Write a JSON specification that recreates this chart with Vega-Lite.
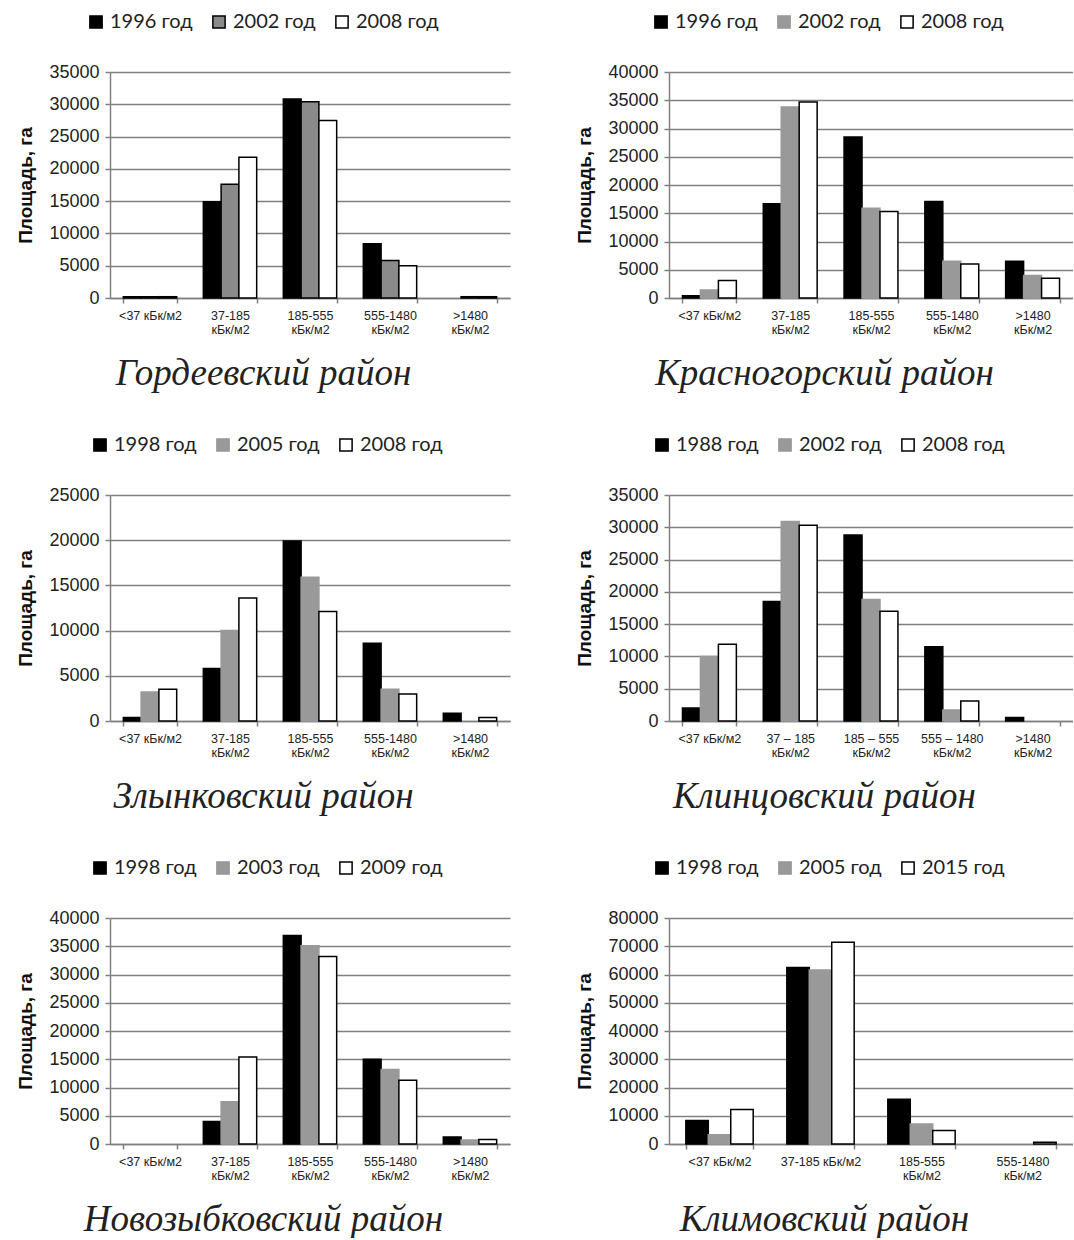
{
  "$schema": "https://vega.github.io/schema/vega-lite/v6.json",
  "background": "white",
  "padding": {"left": 16, "top": 12, "right": 0, "bottom": 0},
  "columns": 2,
  "spacing": {"row": 43, "column": 65},
  "resolve": {
    "scale": {"x": "independent", "y": "independent", "xOffset": "independent", "fill": "independent", "stroke": "independent"},
    "legend": {"fill": "independent", "stroke": "independent"}
  },
  "concat": [
    {
      "width": 400, "height": 226,
      "title": {"text": "Гордеевский район"},
      "data": {"values": [
        {"zone": "<37 кБк/м2", "year": "1996 год", "area": 200},
        {"zone": "<37 кБк/м2", "year": "2002 год", "area": 200},
        {"zone": "<37 кБк/м2", "year": "2008 год", "area": 200},
        {"zone": "37-185|кБк/м2", "year": "1996 год", "area": 14900},
        {"zone": "37-185|кБк/м2", "year": "2002 год", "area": 17600},
        {"zone": "37-185|кБк/м2", "year": "2008 год", "area": 21800},
        {"zone": "185-555|кБк/м2", "year": "1996 год", "area": 30800},
        {"zone": "185-555|кБк/м2", "year": "2002 год", "area": 30400},
        {"zone": "185-555|кБк/м2", "year": "2008 год", "area": 27500},
        {"zone": "555-1480|кБк/м2", "year": "1996 год", "area": 8400},
        {"zone": "555-1480|кБк/м2", "year": "2002 год", "area": 5800},
        {"zone": "555-1480|кБк/м2", "year": "2008 год", "area": 5000},
        {"zone": ">1480|кБк/м2", "year": "2002 год", "area": 200},
        {"zone": ">1480|кБк/м2", "year": "2008 год", "area": 200}
      ]},
      "mark": {"type": "bar", "strokeWidth": 1.5},
      "encoding": {
        "x": {"field": "zone", "type": "nominal", "title": null,
              "scale": {"domain": ["<37 кБк/м2", "37-185|кБк/м2", "185-555|кБк/м2", "555-1480|кБк/м2", ">1480|кБк/м2"], "paddingInner": 0.333, "paddingOuter": 0.1667},
              "axis": {"labelExpr": "split(datum.label, '|')"}},
        "xOffset": {"field": "year", "type": "nominal", "scale": {"domain": ["1996 год", "2002 год", "2008 год"]}},
        "y": {"field": "area", "type": "quantitative", "title": "Площадь, га",
              "scale": {"domain": [0, 35000], "nice": false},
              "axis": {"values": [0, 5000, 10000, 15000, 20000, 25000, 30000, 35000]}},
        "fill": {"field": "year", "type": "nominal", "title": null,
                 "scale": {"domain": ["1996 год", "2002 год", "2008 год"], "range": ["#000000", "#8a8a8a", "#ffffff"]},
                 "legend": {"orient": "none", "legendX": -24, "legendY": -60}},
        "stroke": {"field": "year", "type": "nominal", "title": null,
                   "scale": {"domain": ["1996 год", "2002 год", "2008 год"], "range": ["#000000", "#000000", "#000000"]},
                   "legend": {"orient": "none", "legendX": -24, "legendY": -60}}
      }
    },
    {
      "width": 404, "height": 226,
      "title": {"text": "Красногорский район"},
      "data": {"values": [
        {"zone": "<37 кБк/м2", "year": "1996 год", "area": 400},
        {"zone": "<37 кБк/м2", "year": "2002 год", "area": 1400},
        {"zone": "<37 кБк/м2", "year": "2008 год", "area": 3100},
        {"zone": "37-185|кБк/м2", "year": "1996 год", "area": 16700},
        {"zone": "37-185|кБк/м2", "year": "2002 год", "area": 33800},
        {"zone": "37-185|кБк/м2", "year": "2008 год", "area": 34700},
        {"zone": "185-555|кБк/м2", "year": "1996 год", "area": 28500},
        {"zone": "185-555|кБк/м2", "year": "2002 год", "area": 15900},
        {"zone": "185-555|кБк/м2", "year": "2008 год", "area": 15300},
        {"zone": "555-1480|кБк/м2", "year": "1996 год", "area": 17100},
        {"zone": "555-1480|кБк/м2", "year": "2002 год", "area": 6500},
        {"zone": "555-1480|кБк/м2", "year": "2008 год", "area": 6000},
        {"zone": ">1480|кБк/м2", "year": "1996 год", "area": 6500},
        {"zone": ">1480|кБк/м2", "year": "2002 год", "area": 4000},
        {"zone": ">1480|кБк/м2", "year": "2008 год", "area": 3500}
      ]},
      "mark": {"type": "bar", "strokeWidth": 1.5},
      "encoding": {
        "x": {"field": "zone", "type": "nominal", "title": null,
              "scale": {"domain": ["<37 кБк/м2", "37-185|кБк/м2", "185-555|кБк/м2", "555-1480|кБк/м2", ">1480|кБк/м2"], "paddingInner": 0.333, "paddingOuter": 0.1667},
              "axis": {"labelExpr": "split(datum.label, '|')"}},
        "xOffset": {"field": "year", "type": "nominal", "scale": {"domain": ["1996 год", "2002 год", "2008 год"]}},
        "y": {"field": "area", "type": "quantitative", "title": "Площадь, га",
              "scale": {"domain": [0, 40000], "nice": false},
              "axis": {"values": [0, 5000, 10000, 15000, 20000, 25000, 30000, 35000, 40000]}},
        "fill": {"field": "year", "type": "nominal", "title": null,
                 "scale": {"domain": ["1996 год", "2002 год", "2008 год"], "range": ["#000000", "#999999", "#ffffff"]},
                 "legend": {"orient": "none", "legendX": -18, "legendY": -60}},
        "stroke": {"field": "year", "type": "nominal", "title": null,
                   "scale": {"domain": ["1996 год", "2002 год", "2008 год"], "range": ["#000000", "#999999", "#000000"]},
                   "legend": {"orient": "none", "legendX": -18, "legendY": -60}}
      }
    },
    {
      "width": 400, "height": 226,
      "title": {"text": "Злынковский район"},
      "data": {"values": [
        {"zone": "<37 кБк/м2", "year": "1998 год", "area": 400},
        {"zone": "<37 кБк/м2", "year": "2005 год", "area": 3200},
        {"zone": "<37 кБк/м2", "year": "2008 год", "area": 3500},
        {"zone": "37-185|кБк/м2", "year": "1998 год", "area": 5800},
        {"zone": "37-185|кБк/м2", "year": "2005 год", "area": 10000},
        {"zone": "37-185|кБк/м2", "year": "2008 год", "area": 13600},
        {"zone": "185-555|кБк/м2", "year": "1998 год", "area": 19900},
        {"zone": "185-555|кБк/м2", "year": "2005 год", "area": 15900},
        {"zone": "185-555|кБк/м2", "year": "2008 год", "area": 12100},
        {"zone": "555-1480|кБк/м2", "year": "1998 год", "area": 8600},
        {"zone": "555-1480|кБк/м2", "year": "2005 год", "area": 3500},
        {"zone": "555-1480|кБк/м2", "year": "2008 год", "area": 3000},
        {"zone": ">1480|кБк/м2", "year": "1998 год", "area": 850},
        {"zone": ">1480|кБк/м2", "year": "2008 год", "area": 400}
      ]},
      "mark": {"type": "bar", "strokeWidth": 1.5},
      "encoding": {
        "x": {"field": "zone", "type": "nominal", "title": null,
              "scale": {"domain": ["<37 кБк/м2", "37-185|кБк/м2", "185-555|кБк/м2", "555-1480|кБк/м2", ">1480|кБк/м2"], "paddingInner": 0.333, "paddingOuter": 0.1667},
              "axis": {"labelExpr": "split(datum.label, '|')"}},
        "xOffset": {"field": "year", "type": "nominal", "scale": {"domain": ["1998 год", "2005 год", "2008 год"]}},
        "y": {"field": "area", "type": "quantitative", "title": "Площадь, га",
              "scale": {"domain": [0, 25000], "nice": false},
              "axis": {"values": [0, 5000, 10000, 15000, 20000, 25000]}},
        "fill": {"field": "year", "type": "nominal", "title": null,
                 "scale": {"domain": ["1998 год", "2005 год", "2008 год"], "range": ["#000000", "#999999", "#ffffff"]},
                 "legend": {"orient": "none", "legendX": -20, "legendY": -60}},
        "stroke": {"field": "year", "type": "nominal", "title": null,
                   "scale": {"domain": ["1998 год", "2005 год", "2008 год"], "range": ["#000000", "#999999", "#000000"]},
                   "legend": {"orient": "none", "legendX": -20, "legendY": -60}}
      }
    },
    {
      "width": 404, "height": 226,
      "title": {"text": "Клинцовский район"},
      "data": {"values": [
        {"zone": "<37 кБк/м2", "year": "1988 год", "area": 2000},
        {"zone": "<37 кБк/м2", "year": "2002 год", "area": 10000},
        {"zone": "<37 кБк/м2", "year": "2008 год", "area": 11900},
        {"zone": "37 – 185|кБк/м2", "year": "1988 год", "area": 18500},
        {"zone": "37 – 185|кБк/м2", "year": "2002 год", "area": 30900},
        {"zone": "37 – 185|кБк/м2", "year": "2008 год", "area": 30300},
        {"zone": "185 – 555|кБк/м2", "year": "1988 год", "area": 28800},
        {"zone": "185 – 555|кБк/м2", "year": "2002 год", "area": 18800},
        {"zone": "185 – 555|кБк/м2", "year": "2008 год", "area": 17000},
        {"zone": "555 – 1480|кБк/м2", "year": "1988 год", "area": 11500},
        {"zone": "555 – 1480|кБк/м2", "year": "2002 год", "area": 1700},
        {"zone": "555 – 1480|кБк/м2", "year": "2008 год", "area": 3100},
        {"zone": ">1480|кБк/м2", "year": "1988 год", "area": 550}
      ]},
      "mark": {"type": "bar", "strokeWidth": 1.5},
      "encoding": {
        "x": {"field": "zone", "type": "nominal", "title": null,
              "scale": {"domain": ["<37 кБк/м2", "37 – 185|кБк/м2", "185 – 555|кБк/м2", "555 – 1480|кБк/м2", ">1480|кБк/м2"], "paddingInner": 0.333, "paddingOuter": 0.1667},
              "axis": {"labelExpr": "split(datum.label, '|')"}},
        "xOffset": {"field": "year", "type": "nominal", "scale": {"domain": ["1988 год", "2002 год", "2008 год"]}},
        "y": {"field": "area", "type": "quantitative", "title": "Площадь, га",
              "scale": {"domain": [0, 35000], "nice": false},
              "axis": {"values": [0, 5000, 10000, 15000, 20000, 25000, 30000, 35000]}},
        "fill": {"field": "year", "type": "nominal", "title": null,
                 "scale": {"domain": ["1988 год", "2002 год", "2008 год"], "range": ["#000000", "#999999", "#ffffff"]},
                 "legend": {"orient": "none", "legendX": -17, "legendY": -60}},
        "stroke": {"field": "year", "type": "nominal", "title": null,
                   "scale": {"domain": ["1988 год", "2002 год", "2008 год"], "range": ["#000000", "#999999", "#000000"]},
                   "legend": {"orient": "none", "legendX": -17, "legendY": -60}}
      }
    },
    {
      "width": 400, "height": 226,
      "title": {"text": "Новозыбковский район"},
      "data": {"values": [
        {"zone": "37-185|кБк/м2", "year": "1998 год", "area": 4000},
        {"zone": "37-185|кБк/м2", "year": "2003 год", "area": 7500},
        {"zone": "37-185|кБк/м2", "year": "2009 год", "area": 15400},
        {"zone": "185-555|кБк/м2", "year": "1998 год", "area": 36900},
        {"zone": "185-555|кБк/м2", "year": "2003 год", "area": 35100},
        {"zone": "185-555|кБк/м2", "year": "2009 год", "area": 33200},
        {"zone": "555-1480|кБк/м2", "year": "1998 год", "area": 15000},
        {"zone": "555-1480|кБк/м2", "year": "2003 год", "area": 13200},
        {"zone": "555-1480|кБк/м2", "year": "2009 год", "area": 11300},
        {"zone": ">1480|кБк/м2", "year": "1998 год", "area": 1250},
        {"zone": ">1480|кБк/м2", "year": "2003 год", "area": 700},
        {"zone": ">1480|кБк/м2", "year": "2009 год", "area": 800}
      ]},
      "mark": {"type": "bar", "strokeWidth": 1.5},
      "encoding": {
        "x": {"field": "zone", "type": "nominal", "title": null,
              "scale": {"domain": ["<37 кБк/м2", "37-185|кБк/м2", "185-555|кБк/м2", "555-1480|кБк/м2", ">1480|кБк/м2"], "paddingInner": 0.333, "paddingOuter": 0.1667},
              "axis": {"labelExpr": "split(datum.label, '|')"}},
        "xOffset": {"field": "year", "type": "nominal", "scale": {"domain": ["1998 год", "2003 год", "2009 год"]}},
        "y": {"field": "area", "type": "quantitative", "title": "Площадь, га",
              "scale": {"domain": [0, 40000], "nice": false},
              "axis": {"values": [0, 5000, 10000, 15000, 20000, 25000, 30000, 35000, 40000]}},
        "fill": {"field": "year", "type": "nominal", "title": null,
                 "scale": {"domain": ["1998 год", "2003 год", "2009 год"], "range": ["#000000", "#999999", "#ffffff"]},
                 "legend": {"orient": "none", "legendX": -20, "legendY": -60}},
        "stroke": {"field": "year", "type": "nominal", "title": null,
                   "scale": {"domain": ["1998 год", "2003 год", "2009 год"], "range": ["#000000", "#999999", "#000000"]},
                   "legend": {"orient": "none", "legendX": -20, "legendY": -60}}
      }
    },
    {
      "width": 404, "height": 226,
      "title": {"text": "Климовский район"},
      "data": {"values": [
        {"zone": "<37 кБк/м2", "year": "1998 год", "area": 8300},
        {"zone": "<37 кБк/м2", "year": "2005 год", "area": 3300},
        {"zone": "<37 кБк/м2", "year": "2015 год", "area": 12200},
        {"zone": "37-185 кБк/м2", "year": "1998 год", "area": 62500},
        {"zone": "37-185 кБк/м2", "year": "2005 год", "area": 61600},
        {"zone": "37-185 кБк/м2", "year": "2015 год", "area": 71400},
        {"zone": "185-555|кБк/м2", "year": "1998 год", "area": 15800},
        {"zone": "185-555|кБк/м2", "year": "2005 год", "area": 7100},
        {"zone": "185-555|кБк/м2", "year": "2015 год", "area": 4800},
        {"zone": "555-1480|кБк/м2", "year": "2015 год", "area": 600}
      ]},
      "mark": {"type": "bar", "strokeWidth": 1.5},
      "encoding": {
        "x": {"field": "zone", "type": "nominal", "title": null,
              "scale": {"domain": ["<37 кБк/м2", "37-185 кБк/м2", "185-555|кБк/м2", "555-1480|кБк/м2"], "paddingInner": 0.333, "paddingOuter": 0.1667},
              "axis": {"labelExpr": "split(datum.label, '|')"}},
        "xOffset": {"field": "year", "type": "nominal", "scale": {"domain": ["1998 год", "2005 год", "2015 год"]}},
        "y": {"field": "area", "type": "quantitative", "title": "Площадь, га",
              "scale": {"domain": [0, 80000], "nice": false},
              "axis": {"values": [0, 10000, 20000, 30000, 40000, 50000, 60000, 70000, 80000]}},
        "fill": {"field": "year", "type": "nominal", "title": null,
                 "scale": {"domain": ["1998 год", "2005 год", "2015 год"], "range": ["#000000", "#999999", "#ffffff"]},
                 "legend": {"orient": "none", "legendX": -17, "legendY": -60}},
        "stroke": {"field": "year", "type": "nominal", "title": null,
                   "scale": {"domain": ["1998 год", "2005 год", "2015 год"], "range": ["#000000", "#999999", "#000000"]},
                   "legend": {"orient": "none", "legendX": -17, "legendY": -60}}
      }
    }
  ],
  "config": {
    "view": {"stroke": null},
    "axis": {
      "domainColor": "#808080", "domainWidth": 1.5,
      "tickColor": "#808080", "tickWidth": 1.5, "tickSize": 5,
      "gridColor": "#808080", "gridWidth": 1.5,
      "labelFont": "Liberation Sans", "labelColor": "#222222",
      "titleFont": "Liberation Sans", "titleFontWeight": "bold", "titleColor": "#111111"
    },
    "axisX": {"labelFontSize": 12.5, "labelAngle": 0, "grid": false, "tickBand": "extent", "labelLineHeight": 14, "labelPadding": 6, "labelLimit": 200},
    "axisY": {"labelFontSize": 18, "titleFontSize": 19, "titlePadding": 13, "labelPadding": 6, "grid": true, "format": "d"},
    "legend": {
      "direction": "horizontal",
      "labelFont": "Lato", "labelFontSize": 20, "labelColor": "#222222",
      "symbolType": "square", "symbolSize": 150, "symbolStrokeWidth": 1.5,
      "columnPadding": 16, "labelOffset": 4
    },
    "title": {
      "orient": "bottom", "frame": "bounds", "anchor": "middle",
      "font": "Liberation Serif", "fontStyle": "italic", "fontWeight": "normal",
      "fontSize": 37, "color": "#222222", "offset": 20
    }
  }
}
